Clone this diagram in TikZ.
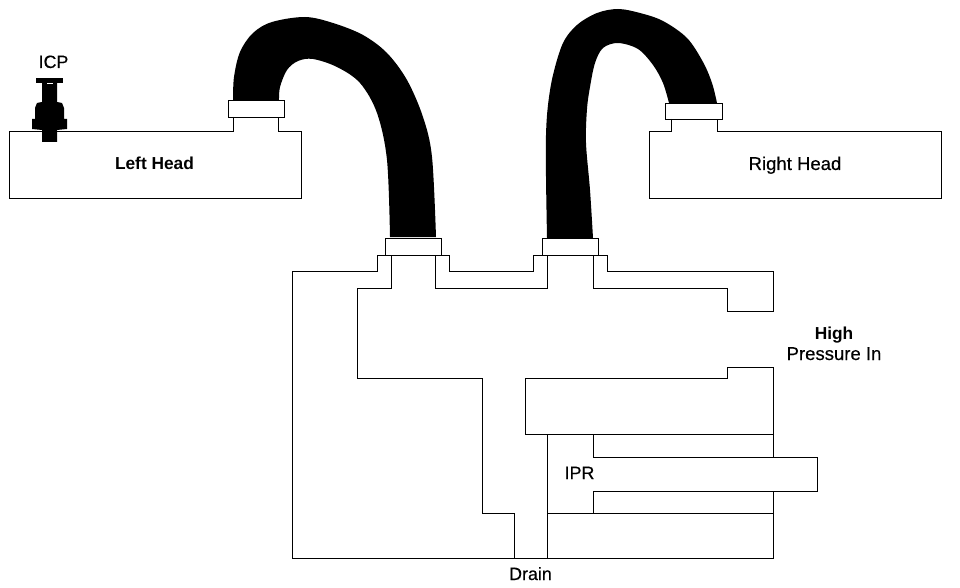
\documentclass[tikz,border=0pt]{standalone}
\usepackage{fontspec}
\setmainfont{Liberation Sans}
\newfontfamily\labfont[FakeBold=0.35]{Liberation Sans}
\tikzset{
  wall/.style={draw=black,line width=0.68pt,line cap=square},
  hose/.style={fill=black,draw=none},
  lab/.style={font=\labfont\fontsize{13.4pt}{15pt}\selectfont,inner sep=0pt,text=black,anchor=base},
  widelab/.style={lab,font=\labfont\fontsize{13.9pt}{15pt}\selectfont},
  blab/.style={lab,font=\fontsize{13pt}{15pt}\selectfont\bfseries}
}
\begin{document}
\begin{tikzpicture}[x=0.75pt,y=-0.75pt]
\useasboundingbox[fill=white] (0,0) rectangle (960,588);
% hoses
\fill[hose] plot[smooth,tension=0.55] coordinates {(233,100) (234,77) (240,52) (253,33) (272,22) (305,17) (333,23) (363,35) (387,53) (407,80) (423,117) (432,157) (436,237)}
  -- plot[smooth,tension=0.55] coordinates {(390,237) (387,160) (377,113) (360,83) (337,67) (313,59) (298,61) (287,70) (280,87) (279,100)} -- cycle;
\fill[hose] plot[smooth,tension=0.55] coordinates {(547,238) (546,177) (546,135) (548,105) (553,75) (563,43) (577,25) (597,13) (618,9) (640,13) (663,21) (687,38) (703,62) (712,83) (717,103)}
  -- plot[smooth,tension=0.55] coordinates {(669,103) (663,83) (653,65) (638,49) (618,43) (603,48) (595,63) (590,87) (587,109) (586,143) (590,190) (593,238)} -- cycle;
% left head
\draw[wall] (233,117) -- (233,131) -- (9,131) -- (9,198) -- (301,198) -- (301,131) -- (278,131) -- (278,117);
\draw[wall] (228,100) rectangle (284,117);
% right head
\draw[wall] (671,119) -- (671,131) -- (649,131) -- (649,198) -- (941,198) -- (941,131) -- (717,131) -- (717,119);
\draw[wall] (665,103) rectangle (722,119);
% collars
\draw[wall] (385,238) rectangle (441,255);
\draw[wall] (542,238) rectangle (598,255);
% outer body
\draw[wall] (385,255) -- (377,255) -- (377,271) -- (292,271) -- (292,558) -- (773,558) -- (773,491);
\draw[wall] (441,255) -- (449,255) -- (449,271) -- (533,271) -- (533,255) -- (542,255);
\draw[wall] (598,255) -- (607,255) -- (607,271) -- (773,271) -- (773,311) -- (727,311) -- (727,288) -- (593,288) -- (593,255);
% inner passage
\draw[wall] (391,255) -- (391,288) -- (357,288) -- (357,378) -- (482,378) -- (482,513) -- (514,513) -- (514,558);
\draw[wall] (435,255) -- (435,288) -- (547,288) -- (547,255);
\draw[wall] (773,367) -- (727,367) -- (727,378) -- (525,378) -- (525,434) -- (773,434);
\draw[wall] (773,367) -- (773,457);
% IPR
\draw[wall] (547,434) -- (547,558);
\draw[wall] (593,434) -- (593,457) -- (817,457) -- (817,491) -- (593,491) -- (593,513);
\draw[wall] (547,513) -- (773,513);
% ICP
\fill[black] (36,78) rectangle (63,83);
\fill[black] (42,83) -- (57,83) -- (57,102) -- (62,103) -- (64,108) -- (64,119) -- (67,119) -- (67,129) -- (57,130) -- (57,142) -- (42,142) -- (42,130) -- (32,129) -- (32,119) -- (35,119) -- (35,108) -- (37,103) -- (42,102) -- cycle;
\fill[white] (47,83) rectangle (53,84);
% labels
\node[lab] (icp) at (53.5,68) {ICP};
\node[blab] (lh) at (154.5,170) {Left Head};
\node[widelab] (rh) at (795,170) {Right Head};
\node[blab] (hi) at (834,339) {High};
\node[widelab] (pr) at (834,360) {Pressure In};
\node[lab] (ipr) at (579.5,479) {IPR};
\node[lab] (dr) at (530.5,580) {Drain};
\end{tikzpicture}
\end{document}
